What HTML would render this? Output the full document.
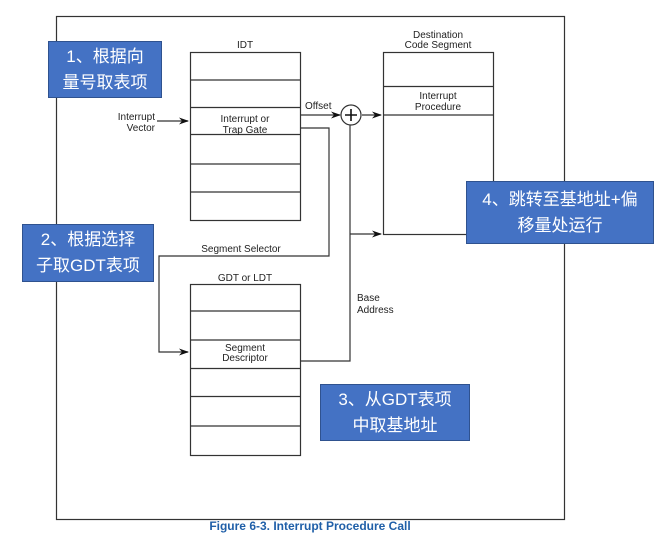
<!DOCTYPE html>
<html><head><meta charset="utf-8"><style>
body{margin:0;background:#fff;width:664px;height:557px;overflow:hidden;position:relative;font-family:"Liberation Sans",sans-serif}
.b{position:absolute;background:#4472c4;border:1px solid #2f528f;color:#fff;font:17px/26px "Liberation Sans","Noto Sans CJK SC",sans-serif;text-align:center;box-sizing:border-box;display:flex;align-items:center;justify-content:center}
</style></head><body>
<svg width="664" height="557" style="position:absolute;left:0;top:0" font-family="Liberation Sans, sans-serif" font-size="10" fill="#222">
<defs><marker id="a" markerWidth="10" markerHeight="8" refX="9" refY="4" orient="auto" markerUnits="userSpaceOnUse"><path d="M0,0.5 L10,4 L0,7.5 L3,4z" fill="#111"/></marker></defs>
<g stroke="#333" stroke-width="1.2" fill="none">
<rect x="56.5" y="16.5" width="508" height="503"/>
<rect x="190.5" y="52.5" width="110" height="168"/>
<path d="M190 80H300M190 107.5H300M190 134.5H300M190 164H300M190 192H300"/>
<rect x="383.5" y="52.5" width="110" height="182"/>
<path d="M383 86.5H493M383 115H493"/>
<rect x="190.5" y="284.5" width="110" height="171"/>
<path d="M190 311H300M190 340H300M190 368.5H300M190 396.5H300M190 426H300"/>
<circle cx="351" cy="115" r="10"/>
<path d="M345 115H357M351 109V121" stroke="#111" stroke-width="1.6"/>
<path d="M157 121H188" marker-end="url(#a)"/>
<path d="M300 115H340" marker-end="url(#a)"/>
<path d="M362 115H381" marker-end="url(#a)"/>
<path d="M300 128H329V256H159V352H188" marker-end="url(#a)"/>
<path d="M300 361H350V125"/>
<path d="M350 234H381" marker-end="url(#a)"/>
</g>
<g text-anchor="middle">
<text x="245" y="48">IDT</text>
<text x="245" y="122">Interrupt or</text><text x="245" y="133">Trap Gate</text>
<text x="438" y="38">Destination</text><text x="438" y="48">Code Segment</text>
<text x="438" y="99">Interrupt</text><text x="438" y="110">Procedure</text>
<text x="245" y="281">GDT or LDT</text>
<text x="245" y="351">Segment</text><text x="245" y="361">Descriptor</text>
<text x="241" y="252">Segment Selector</text>
</g>
<g text-anchor="end"><text x="155" y="120">Interrupt</text><text x="155" y="131">Vector</text></g>
<text x="305" y="109">Offset</text>
<text x="357" y="301">Base</text><text x="357" y="313">Address</text>
<text x="310" y="530" text-anchor="middle" font-size="12" font-weight="bold" fill="#1f5fa8">Figure 6-3.  Interrupt Procedure Call</text>
</svg>
<div class="b" style="left:48px;top:41px;width:114px;height:57px">1、根据向<br>量号取表项</div>
<div class="b" style="left:22px;top:224px;width:132px;height:58px">2、根据选择<br>子取GDT表项</div>
<div class="b" style="left:320px;top:384px;width:150px;height:57px">3、从GDT表项<br>中取基地址</div>
<div class="b" style="left:466px;top:181px;width:188px;height:63px">4、跳转至基地址+偏<br>移量处运行</div>
</body></html>
